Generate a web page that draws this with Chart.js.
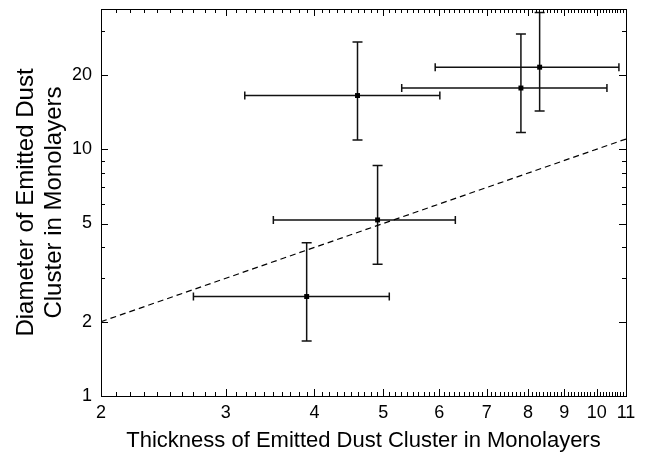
<!DOCTYPE html>
<html>
<head>
<meta charset="utf-8">
<script src="https://cdn.jsdelivr.net/npm/chart.js@4.4.1/dist/chart.umd.min.js"></script>
<style>
  html, body { margin: 0; padding: 0; background: #fff; }
  #wrap { width: 653px; height: 460px; }
</style>
</head>
<body>
<div id="wrap"><canvas id="chart"></canvas></div>
<script>
// measured points (thickness vs diameter, both in monolayers)
const xVals = [3.90, 4.91, 4.60, 7.82, 8.31];
const yVals = [2.53, 5.17, 16.5, 17.7, 21.5];
const xLow  = [2.70, 3.50, 3.19, 5.31, 5.92];
const xHigh = [5.10, 6.32, 6.01, 10.34, 10.75];
const yLow  = [1.67, 3.42, 10.9, 11.7, 14.3];
const yHigh = [4.18, 8.60, 27.2, 29.3, 35.8];

// dashed reference line
const fitX = [2, 11];
const fitY = [2, 11];

// axis ticks
const xTickLabels = [2, 3, 4, 5, 6, 7, 8, 9, 10, 11];
const yTickLabels = [1, 2, 5, 10, 20];
const yMinorTicks = [3, 4, 6, 7, 8, 9, 30];

const xMinorTicks = [];
for (let i = 21; i < 110; i++) {
  if (i % 10 !== 0) xMinorTicks.push(i / 10);
}

const FONT = "'Liberation Sans', Arial, sans-serif";

// error bars, frame and inward ticks
const errorBars = {
  id: 'errorBars',
  beforeDatasetsDraw(chart) {
    const ctx = chart.ctx;
    const xs = chart.scales.x, ys = chart.scales.y;
    ctx.save();
    ctx.strokeStyle = '#111';
    ctx.lineWidth = 1.5;
    for (let i = 0; i < xVals.length; i++) {
      const px = xs.getPixelForValue(xVals[i]);
      const py = ys.getPixelForValue(yVals[i]);
      const x0 = xs.getPixelForValue(xLow[i]);
      const x1 = xs.getPixelForValue(xHigh[i]);
      const y0 = ys.getPixelForValue(yLow[i]);
      const y1 = ys.getPixelForValue(yHigh[i]);
      ctx.beginPath();
      ctx.moveTo(x0, py); ctx.lineTo(x1, py);
      ctx.moveTo(x0, py - 4); ctx.lineTo(x0, py + 4);
      ctx.moveTo(x1, py - 4); ctx.lineTo(x1, py + 4);
      ctx.moveTo(px, y0); ctx.lineTo(px, y1);
      ctx.moveTo(px - 5, y0); ctx.lineTo(px + 5, y0);
      ctx.moveTo(px - 5, y1); ctx.lineTo(px + 5, y1);
      ctx.stroke();
    }
    ctx.restore();
  },
  afterDraw(chart) {
    const ctx = chart.ctx;
    const a = chart.chartArea;
    const xs = chart.scales.x, ys = chart.scales.y;
    ctx.save();
    ctx.strokeStyle = '#000';
    ctx.lineWidth = 1;
    ctx.strokeRect(a.left + 0.5, a.top + 0.5, a.right - a.left, a.bottom - a.top);
    ctx.beginPath();
    const xTick = (v, len) => {
      const p = Math.round(xs.getPixelForValue(v)) + 0.5;
      ctx.moveTo(p, a.bottom); ctx.lineTo(p, a.bottom - len);
      ctx.moveTo(p, a.top); ctx.lineTo(p, a.top + len);
    };
    const yTick = (v, len) => {
      const p = Math.round(ys.getPixelForValue(v)) + 0.5;
      ctx.moveTo(a.left, p); ctx.lineTo(a.left + len, p);
      ctx.moveTo(a.right, p); ctx.lineTo(a.right - len, p);
    };
    xTickLabels.forEach(v => xTick(v, 7));
    xMinorTicks.forEach(v => xTick(v, 4));
    yTickLabels.forEach(v => yTick(v, 7));
    yMinorTicks.forEach(v => yTick(v, 4));
    ctx.stroke();
    ctx.restore();
  }
};

const points = xVals.map((x, i) => ({ x: x, y: yVals[i] }));
const fitLine = fitX.map((x, i) => ({ x: x, y: fitY[i] }));

new Chart(document.getElementById('chart'), {
  type: 'scatter',
  data: {
    datasets: [{
      data: fitLine,
      showLine: true,
      borderColor: '#000',
      borderWidth: 1.2,
      borderDash: [6, 4],
      pointRadius: 0
    }, {
      data: points,
      pointStyle: 'rect',
      pointRadius: 3.5,
      backgroundColor: '#000',
      borderColor: '#000',
      borderWidth: 0
    }]
  },
  options: {
    responsive: true,
    maintainAspectRatio: false,
    animation: false,
    layout: { padding: { left: 0, right: 27, top: 9, bottom: 0 } },
    plugins: { legend: { display: false }, tooltip: { enabled: false } },
    scales: {
      x: {
        type: 'logarithmic',
        min: 2,
        max: 11,
        grid: { display: false, drawTicks: false },
        border: { display: false },
        afterBuildTicks: s => { s.ticks = xTickLabels.map(v => ({ value: v })); },
        afterFit: s => { s.height = 64; s.paddingLeft = 0; s.paddingRight = 0; },
        ticks: {
          autoSkip: false,
          maxRotation: 0,
          padding: 6,
          color: '#000',
          font: { family: FONT, size: 18 },
          callback: v => String(v)
        },
        title: {
          display: true,
          text: 'Thickness of Emitted Dust Cluster in Monolayers',
          color: '#000',
          font: { family: FONT, size: 22 },
          padding: { top: 0, bottom: 6 }
        }
      },
      y: {
        type: 'logarithmic',
        min: 1,
        max: 37,
        grid: { display: false, drawTicks: false },
        border: { display: false },
        afterBuildTicks: s => { s.ticks = yTickLabels.map(v => ({ value: v })); },
        afterFit: s => { s.width = 101; s.paddingTop = 0; s.paddingBottom = 0; },
        ticks: {
          autoSkip: false,
          padding: 9,
          color: '#000',
          font: { family: FONT, size: 18 },
          callback: v => String(v)
        },
        title: {
          display: true,
          text: ['Diameter of Emitted Dust', 'Cluster in Monolayers'],
          color: '#000',
          font: { family: FONT, size: 24, lineHeight: 1.17 },
          padding: { top: 12, bottom: 0 }
        }
      }
    }
  },
  plugins: [errorBars]
});
</script>
</body>
</html>
